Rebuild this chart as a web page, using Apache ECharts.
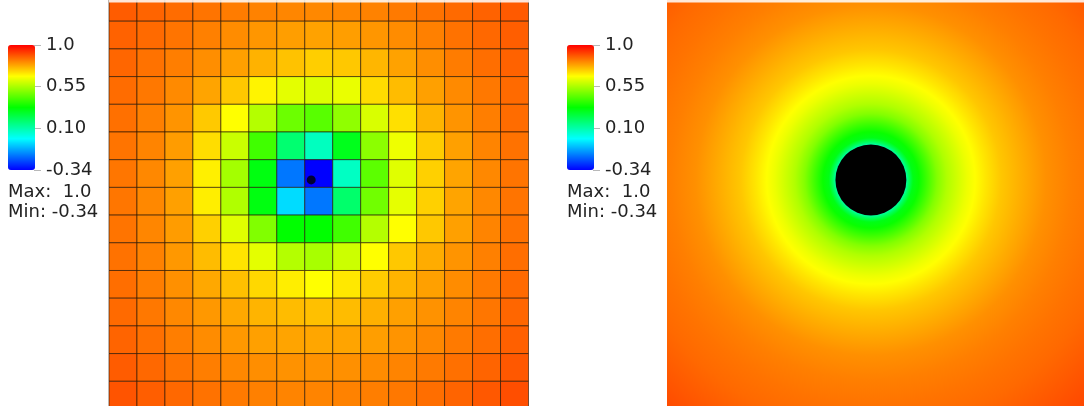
<!DOCTYPE html>
<html><head><meta charset="utf-8">
<script src="https://cdn.jsdelivr.net/npm/echarts@6/dist/echarts.min.js"></script>
<style>html,body{margin:0;padding:0;background:#fff;}#c{width:1084px;height:406px;}</style>
</head><body><div id="c"></div>
<script>
// ---- data ----
const tickLabels = ['-0.34', '0.10', '0.55', '1.0'];
const maxLabel = '1.0';
const minLabel = '-0.34';
const rangeMin = -0.345;
const rangeMax = 1.0;

const row0  = [0.879,0.868,0.858,0.847,0.837,0.829,0.823,0.821,0.823,0.829,0.839,0.850,0.860,0.871,0.881];
const row1  = [0.871,0.860,0.847,0.831,0.815,0.802,0.792,0.786,0.792,0.802,0.815,0.831,0.850,0.863,0.876];
const row2  = [0.866,0.850,0.834,0.813,0.789,0.765,0.744,0.728,0.736,0.760,0.786,0.813,0.837,0.855,0.871];
const row3  = [0.858,0.842,0.818,0.784,0.736,0.678,0.628,0.618,0.636,0.710,0.752,0.789,0.818,0.842,0.860];
const row4  = [0.852,0.831,0.805,0.735,0.664,0.565,0.470,0.444,0.518,0.613,0.705,0.763,0.805,0.834,0.858];
const row5  = [0.847,0.826,0.794,0.709,0.592,0.412,0.180,0.075,0.291,0.512,0.642,0.731,0.789,0.826,0.850];
const row6  = [0.844,0.821,0.789,0.684,0.544,0.307,-0.188,-0.345,0.070,0.449,0.623,0.726,0.784,0.821,0.847];
const row7  = [0.844,0.821,0.789,0.686,0.560,0.307,-0.055,-0.188,0.186,0.476,0.631,0.726,0.784,0.821,0.847];
const row8  = [0.847,0.823,0.794,0.726,0.623,0.497,0.328,0.328,0.412,0.565,0.664,0.736,0.789,0.826,0.850];
const row9  = [0.850,0.829,0.800,0.752,0.700,0.628,0.565,0.549,0.597,0.664,0.736,0.773,0.805,0.831,0.855];
const row10 = [0.855,0.834,0.810,0.779,0.747,0.715,0.686,0.664,0.694,0.731,0.763,0.789,0.815,0.839,0.860];
const row11 = [0.860,0.842,0.821,0.800,0.779,0.763,0.752,0.747,0.752,0.768,0.789,0.808,0.826,0.844,0.866];
const row12 = [0.868,0.852,0.834,0.815,0.800,0.789,0.784,0.781,0.784,0.792,0.805,0.821,0.839,0.855,0.873];
const row13 = [0.879,0.863,0.847,0.834,0.821,0.813,0.808,0.808,0.810,0.815,0.826,0.839,0.852,0.868,0.884];
const row14 = [0.889,0.876,0.863,0.850,0.839,0.831,0.826,0.826,0.829,0.834,0.842,0.855,0.868,0.884,0.897];
const cellRows = [row0,row1,row2,row3,row4,row5,row6,row7,row8,row9,row10,row11,row12,row13,row14];

const dotPos = [7.23, 6.73];
const holeCenter = [7.30, 6.73];
const holeRadius = 1.27;
const profileRadius = [1.27,1.36,1.51,1.72,2.01,2.37,2.72,3.08,3.44,3.73,4.12,4.66,5.38,6.27,7.17,8.06,8.96,9.86,10.75,11.47];
const profileValue  = [0.12,0.20,0.30,0.34,0.41,0.50,0.56,0.60,0.64,0.664,0.697,0.738,0.770,0.810,0.832,0.848,0.862,0.880,0.898,0.910];

// ---- build ----
const cellData = [];
cellRows.forEach((row, r) => row.forEach((v, c) => cellData.push([c, r, v])));
const profileData = profileRadius.map((r, i) => [r, profileValue[i]]);

const rainbow = ['#0000ff', '#00ffff', '#00ff00', '#ffff00', '#ff0000'];
const FONT = '"DejaVu Sans", sans-serif';
// visible window of the 15x15 domain (top rows are partly cut by the frame)
const viewTop = 0.2347, viewBottom = 14.892;

const chart = echarts.init(document.getElementById('c'), null, {renderer: 'canvas'});

function legendAxisGrid(left) {
  return {left: left, top: 45, width: 1, height: 125};
}
function panelAxes(gi) {
  return {
    x: {type: 'value', gridIndex: gi, min: 0, max: 15, show: false},
    y: {type: 'value', gridIndex: gi, min: viewTop, max: viewBottom, inverse: true, show: false}
  };
}
function legendY(gi) {
  return {
    type: 'value', gridIndex: gi, min: 0, max: 3, interval: 1, position: 'right',
    axisLine: {show: false}, splitLine: {show: false},
    axisTick: {show: true, length: 7, lineStyle: {color: '#b8b8b8', width: 1}},
    axisLabel: {show: true, margin: 11, fontSize: 18, fontFamily: 'DejaVu Sans', color: '#222',
      formatter: (v) => tickLabels[Math.round(v)]}
  };
}
const a0 = panelAxes(0), a1 = panelAxes(1);

const option = {
  animation: false,
  backgroundColor: '#ffffff',
  grid: [
    {left: 109, top: 0, width: 419.5, height: 406},
    {left: 667, top: 0, width: 417, height: 406},
    legendAxisGrid(34),
    legendAxisGrid(593)
  ],
  xAxis: [a0.x,
    {type: 'value', gridIndex: 1, min: 0, max: 14.93, show: false},
    {type: 'value', gridIndex: 2, show: false},
    {type: 'value', gridIndex: 3, show: false}],
  yAxis: [a0.y, a1.y, legendY(2), legendY(3)],
  visualMap: [
    {type: 'continuous', seriesIndex: 0, dimension: 2, min: rangeMin, max: rangeMax,
     inRange: {color: rainbow}, left: 8, top: 45, itemWidth: 27, itemHeight: 125,
     calculable: false, padding: 0, hoverLink: false, text: null, orient: 'vertical'},
    {type: 'continuous', seriesIndex: 1, dimension: 1, min: rangeMin, max: rangeMax,
     inRange: {color: rainbow}, left: 567, top: 45, itemWidth: 27, itemHeight: 125,
     calculable: false, padding: 0, hoverLink: false, text: null, orient: 'vertical'}
  ],
  series: [
    {
      type: 'custom', xAxisIndex: 0, yAxisIndex: 0, data: cellData,
      encode: {x: 0, y: 1},
      renderItem: function (params, api) {
        const c = api.value(0), r = api.value(1);
        const p0 = api.coord([c, r]);
        const p1 = api.coord([c + 1, r + 1]);
        return {type: 'rect',
          shape: {x: p0[0], y: p0[1], width: p1[0] - p0[0], height: p1[1] - p0[1]},
          style: {fill: api.visual('color'), stroke: 'rgba(35,18,0,0.62)', lineWidth: 1}};
      }
    },
    {
      type: 'custom', xAxisIndex: 1, yAxisIndex: 1, data: profileData, clip: true,
      encode: {x: 0, y: 1},
      renderItem: function (params, api) {
        if (params.dataIndexInside !== 0) return null;
        const n = profileRadius.length;
        const rMax = profileRadius[n - 1];
        const c = api.coord(holeCenter);
        const R = api.size([rMax, 0])[0];
        const stops = profileRadius.map((r, i) => ({offset: r / rMax, color: api.visual('color', i)}));
        const cs = params.coordSys;
        return {type: 'group', children: [
          {type: 'rect', shape: {x: cs.x, y: cs.y, width: cs.width, height: cs.height},
           style: {fill: api.visual('color', n - 1)}},
          {type: 'circle', shape: {cx: c[0], cy: c[1], r: R},
           style: {fill: {type: 'radial', x: c[0], y: c[1], r: R, colorStops: stops, global: true}}}
        ]};
      }
    },
    {
      type: 'custom', xAxisIndex: 1, yAxisIndex: 1, data: [[holeCenter[0], holeCenter[1], holeRadius]],
      encode: {x: 0, y: 1}, z: 3,
      renderItem: function (params, api) {
        const c = api.coord([api.value(0), api.value(1)]);
        const r = api.size([api.value(2), 0])[0];
        return {type: 'circle', shape: {cx: c[0], cy: c[1], r: r}, style: {fill: '#000'}};
      }
    },
    {
      type: 'scatter', xAxisIndex: 0, yAxisIndex: 0, data: [dotPos], symbolSize: 9,
      itemStyle: {color: '#000'}, z: 4, silent: true
    }
  ],
  graphic: [
    {type: 'rect', shape: {x: 109, y: 0, width: 420, height: 2.5}, style: {fill: 'rgba(255,255,255,0.85)'}, z: 100},
    {type: 'rect', shape: {x: 667, y: 0, width: 417, height: 2.5}, style: {fill: 'rgba(255,255,255,0.85)'}, z: 100},
    {type: 'text', x: 8, y: 192.5, z: 100, style: {text: 'Max:  ' + maxLabel, font: '18px ' + FONT, fill: '#222', verticalAlign: 'middle'}},
    {type: 'text', x: 8, y: 212.5, z: 100, style: {text: 'Min: ' + minLabel, font: '18px ' + FONT, fill: '#222', verticalAlign: 'middle'}},
    {type: 'text', x: 567, y: 192.5, z: 100, style: {text: 'Max:  ' + maxLabel, font: '18px ' + FONT, fill: '#222', verticalAlign: 'middle'}},
    {type: 'text', x: 567, y: 212.5, z: 100, style: {text: 'Min: ' + minLabel, font: '18px ' + FONT, fill: '#222', verticalAlign: 'middle'}}
  ]
};
chart.setOption(option);
</script>
</body></html>
